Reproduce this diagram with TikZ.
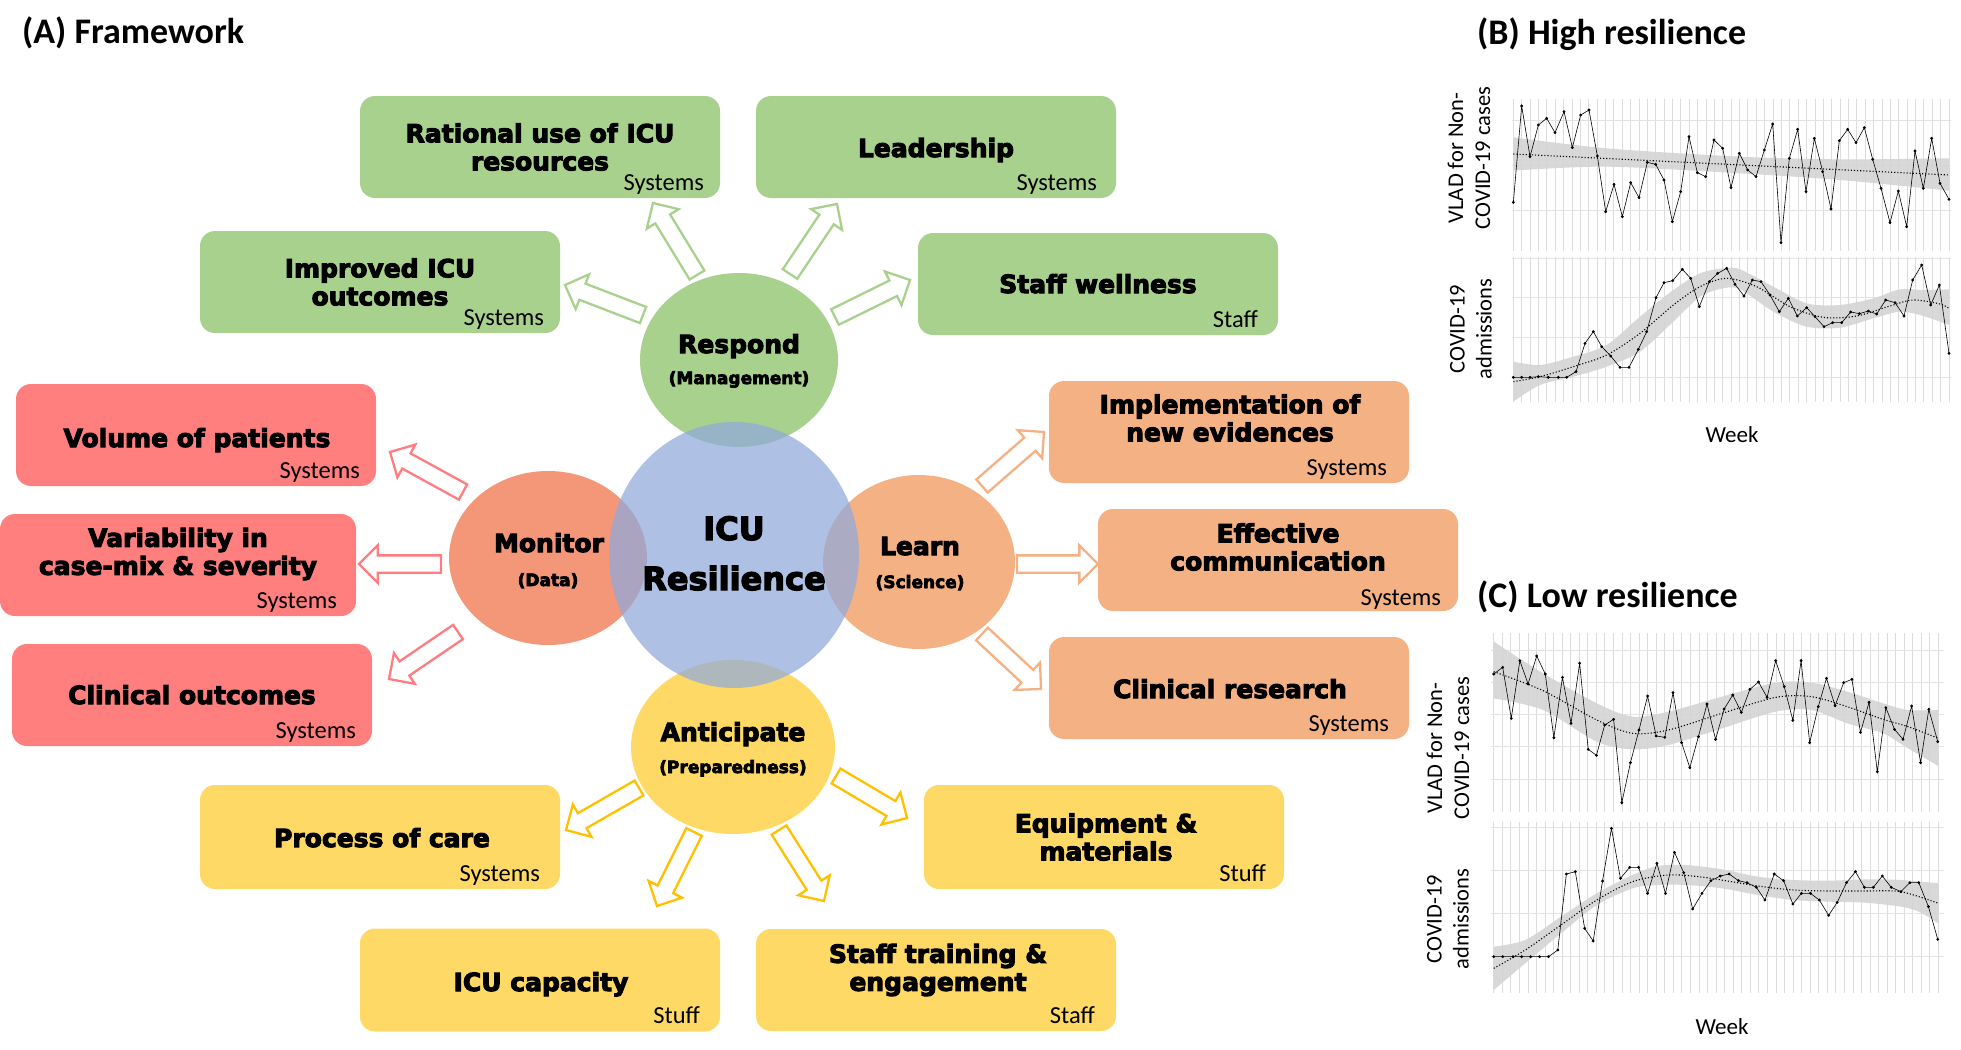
\documentclass[tikz,border=0pt]{standalone}
\usepackage{fontspec}
\setmainfont{Carlito}
\newfontfamily\dv{DejaVu Sans}[BoldFeatures={FakeBold=4}]
\usetikzlibrary{shapes.geometric,shapes.arrows}
\definecolor{cGreen}{HTML}{A9D18E}
\definecolor{cRed}{HTML}{FF7F7F}
\definecolor{cRedA}{HTML}{FF7C80}
\definecolor{cOrange}{HTML}{F4B183}
\definecolor{cYellow}{HTML}{FFD966}
\definecolor{cYellowA}{HTML}{FFC000}
\definecolor{cMon}{HTML}{F49779}
\definecolor{cBlue}{HTML}{8FAADC}
\definecolor{cBand}{HTML}{D4D4D4}
\definecolor{cGrid}{HTML}{DCDCDC}
\newcommand\blockarr[6]{%
  \pgfmathsetmacro\bAng{atan2(#4-#6,#5-#3)}%
  \pgfmathsetmacro\bLen{veclen(#5-#3,#6-#4)}%
  \node[barrow=#2, rotate=\bAng, minimum height=\bLen pt, anchor=tail] (#1) at (#3,#4) {};%
}
\tikzset{
  box/.style={rectangle, rounded corners=15pt, minimum width=360pt, minimum height=102pt, inner sep=0pt, draw=none},
  gbox/.style={box, fill=cGreen},
  rbox/.style={box, fill=cRed},
  obox/.style={box, fill=cOrange},
  ybox/.style={box, fill=cYellow},
  mtext/.style={font=\dv\bfseries\fontsize{25}{28}\selectfont, align=center, inner sep=0pt, text=black},
  stext/.style={font=\fontsize{24.5}{27}\selectfont, anchor=base east, inner sep=0pt},
  ctext/.style={font=\dv\bfseries\fontsize{25}{28}\selectfont, anchor=base, inner sep=0pt},
  cstext/.style={font=\dv\bfseries\fontsize{17}{20}\selectfont, anchor=base, inner sep=0pt},
  bigtext/.style={font=\dv\bfseries\fontsize{32}{36}\selectfont, anchor=base, inner sep=0pt},
  circ/.style={ellipse, inner sep=0pt, draw=none, minimum width=198pt, minimum height=174pt},
  barrow/.style={single arrow, draw=#1, fill=white, line width=2.3pt, minimum width=36pt,
     single arrow head extend=10pt, single arrow tip angle=90, inner xsep=0pt, inner ysep=7.5pt,
     text height=0pt, text depth=0pt, outer sep=0pt},
  title/.style={font=\bfseries\fontsize{36}{40}\selectfont, anchor=base west, inner sep=0pt},
  axlab/.style={font=\fontsize{22.5}{27}\selectfont, align=center, inner sep=0pt, rotate=90},
  weeklab/.style={font=\fontsize{23}{26}\selectfont, inner sep=0pt},
  gridv/.style={draw=cGrid, line width=0.9pt},
  gridh/.style={draw=cGrid!80, line width=0.9pt},
  band/.style={fill=cBand, fill opacity=0.9, draw=none},
  trend/.style={draw=black, line width=1.1pt, dotted},
  data/.style={draw=black, line width=0.6pt, mark=*, mark size=1.1pt, mark options={solid, fill=black}},
}
\begin{document}
\begin{tikzpicture}[x=1pt, y=-1pt]
\useasboundingbox (0,0) rectangle (1961,1049);
\fill[white] (0,0) rectangle (1961,1049);

% titles
\node[title] (tA) at (22,44) {(A) Framework};
\node[title] (tB) at (1477,45) {(B) High resilience};
\node[title] (tC) at (1477,607) {(C) Low resilience};

% boxes
\node[gbox] (rat) at (540,147) {};
\node[gbox] (lead) at (936,147) {};
\node[gbox] (impr) at (380,282) {};
\node[gbox] (well) at (1098,284) {};
\node[rbox] (vol) at (196,435) {};
\node[rbox, minimum width=356pt] (var) at (178,565) {};
\node[rbox] (clo) at (192,695) {};
\node[obox] (impl) at (1229,432) {};
\node[obox] (eff) at (1278,560) {};
\node[obox] (res) at (1229,688) {};
\node[ybox, minimum height=104pt] (proc) at (380,837) {};
\node[ybox, minimum height=104pt] (equip) at (1104,837) {};
\node[ybox, minimum height=103pt] (cap) at (540,980) {};
\node[ybox] (train) at (936,980) {};

\node[mtext] (ratT) at (540,147) {Rational use of ICU\\resources};
\node[mtext, anchor=base] (leadT) at (936,157) {Leadership};
\node[mtext] (imprT) at (380,282) {Improved ICU\\outcomes};
\node[mtext, anchor=base] (wellT) at (1098,293) {Staff wellness};
\node[mtext, anchor=base] (volT) at (197,447) {Volume of patients};
\node[mtext] (varT) at (178,554) {Variability in\\case-mix \& severity};
\node[mtext, anchor=base] (cloT) at (192,704) {Clinical outcomes};
\node[mtext] (implT) at (1230,418) {Implementation of\\new evidences};
\node[mtext] (effT) at (1278,547) {Effective\\communication};
\node[mtext, anchor=base] (resT) at (1230,698) {Clinical research};
\node[mtext, anchor=base] (procT) at (382,847) {Process of care};
\node[mtext] (equipT) at (1106,837) {Equipment \&\\materials};
\node[mtext, anchor=base] (capT) at (541,991) {ICU capacity};
\node[mtext] (trainT) at (938,970) {Staff training \&\\engagement};

\node[stext] (ratS) at ([xshift=-16pt,yshift=8pt]rat.south east) {Systems};
\node[stext] (leadS) at ([xshift=-19pt,yshift=8pt]lead.south east) {Systems};
\node[stext] (imprS) at ([xshift=-16pt,yshift=8pt]impr.south east) {Systems};
\node[stext] (wellS) at ([xshift=-20pt,yshift=8pt]well.south east) {Staff};
\node[stext] (volS) at ([xshift=-16pt,yshift=8pt]vol.south east) {Systems};
\node[stext] (varS) at ([xshift=-19pt,yshift=8pt]var.south east) {Systems};
\node[stext] (cloS) at ([xshift=-16pt,yshift=8pt]clo.south east) {Systems};
\node[stext] (implS) at ([xshift=-22pt,yshift=8pt]impl.south east) {Systems};
\node[stext] (effS) at ([xshift=-17pt,yshift=6pt]eff.south east) {Systems};
\node[stext] (resS) at ([xshift=-20pt,yshift=8pt]res.south east) {Systems};
\node[stext] (procS) at ([xshift=-20pt,yshift=8pt]proc.south east) {Systems};
\node[stext] (equipS) at ([xshift=-18pt,yshift=8pt]equip.south east) {Stuff};
\node[stext] (capS) at ([xshift=-20pt,yshift=8pt]cap.south east) {Stuff};
\node[stext] (trainS) at ([xshift=-21pt,yshift=8pt]train.south east) {Staff};

% circles
\node[circ, fill=cGreen] (resp) at (739,360) {};
\node[circ, fill=cMon] (mon) at (548,558) {};
\node[circ, fill=cOrange, minimum width=192pt] (learn) at (919,562) {};
\node[circ, fill=cYellow, minimum width=204pt] (ant) at (733,747) {};
\node[ellipse, inner sep=0pt, minimum width=250pt, minimum height=266pt, fill=cBlue, fill opacity=0.72] (icu) at (734,555) {};

\node[ctext] (respT) at (739,353) {Respond};
\node[cstext] (respS) at (739,384) {(Management)};
\node[ctext] (monT) at (549,552) {Monitor};
\node[cstext] (monS) at (548,586) {(Data)};
\node[ctext] (learnT) at (920,555) {Learn};
\node[cstext] (learnS) at (920,588) {(Science)};
\node[ctext] (antT) at (733,741) {Anticipate};
\node[cstext] (antS) at (733,773) {(Preparedness)};
\node[bigtext] (icuT1) at (734,540) {ICU};
\node[bigtext] (icuT2) at (734,590) {Resilience};

% block arrows
\blockarr{a1}{cGreen}{697}{275}{653}{203}
\blockarr{a2}{cGreen}{643}{315}{565}{285}
\blockarr{a3}{cGreen}{790}{274}{837}{204}
\blockarr{a4}{cGreen}{835}{317}{910}{280}
\blockarr{a5}{cRedA}{463}{492}{390}{452}
\blockarr{a6}{cRedA}{441}{564}{359}{564}
\blockarr{a7}{cRedA}{458}{632}{389}{679}
\blockarr{a8}{cOrange}{982}{486}{1044}{432}
\blockarr{a9}{cOrange}{1017}{564}{1098}{564}
\blockarr{a10}{cOrange}{982}{634}{1041}{689}
\blockarr{a11}{cYellowA}{639}{788}{566}{830}
\blockarr{a12}{cYellowA}{694}{832}{657}{906}
\blockarr{a13}{cYellowA}{779}{830}{824}{901}
\blockarr{a14}{cYellowA}{836}{776}{907}{818}

% ---------- chart B ----------
\begin{scope}[shift={(1440,0)}, x=0.33333pt, y=-0.33333pt]
  \foreach \i in {0,...,52} {
    \draw[gridv] ({220+\i*25.135},298) -- ({220+\i*25.135},752);
    \draw[gridv] ({220+\i*25.135},770) -- ({220+\i*25.135},1205);
  }
  \foreach \yy in {360,495,630} \draw[gridh] (215,\yy) -- (1532,\yy);
  \foreach \yy in {775,893,1012,1132} \draw[gridh] (215,\yy) -- (1532,\yy);
  \fill[band] plot[smooth] coordinates {(220,412) (500,445) (900,470) (1200,478) (1527,475)}
     -- plot[smooth] coordinates {(1527,572) (1200,540) (900,520) (500,500) (220,512)} -- cycle;
  \draw[trend] (220,462) -- (1527,525);
  \draw[data] plot coordinates {(220,607)(245,318)(270,470)(295,375)(320,355)(345,398)(372,335)(397,443)(422,345)(447,330)(472,468)(497,635)(522,553)(547,650)(572,548)(597,593)(622,487)(647,493)(672,540)(697,665)(722,575)(747,410)(772,518)(797,530)(822,420)(848,445)(873,563)(898,460)(923,510)(948,530)(973,450)(998,372)(1023,728)(1048,475)(1073,388)(1098,575)(1123,415)(1148,515)(1173,627)(1198,422)(1223,388)(1248,428)(1273,383)(1298,478)(1323,565)(1350,668)(1375,573)(1400,680)(1425,453)(1450,565)(1475,415)(1500,550)(1527,598)};
  \fill[band] plot[smooth] coordinates {(220,1085) (300,1095) (400,1070) (500,1035) (600,950) (700,870) (780,820) (850,805) (900,808) (1000,860) (1100,910) (1200,915) (1300,895) (1380,868) (1450,870) (1527,868)}
     -- plot[smooth] coordinates {(1527,975) (1450,948) (1380,935) (1300,955) (1200,983) (1100,980) (1000,935) (900,868) (850,865) (780,890) (700,965) (600,1055) (500,1100) (400,1130) (300,1155) (220,1205)} -- cycle;
  \draw[trend] plot[smooth] coordinates {(220,1145) (300,1130) (400,1100) (500,1065) (600,1000) (700,915) (780,860) (860,835) (950,860) (1050,920) (1150,952) (1250,948) (1350,918) (1420,900) (1500,912) (1527,925)};
  \draw[data] plot coordinates {(220,1132)(245,1132)(270,1132)(295,1130)(325,1132)(355,1132)(380,1132)(408,1115)(435,1030)(460,995)(485,1040)(512,1068)(540,1102)(567,1102)(595,1048)(620,995)(648,893)(672,848)(698,842)(727,808)(752,835)(778,920)(808,845)(833,820)(860,805)(885,853)(912,888)(937,840)(963,845)(990,885)(1018,935)(1045,895)(1072,948)(1100,923)(1125,950)(1152,980)(1178,968)(1205,968)(1232,936)(1258,941)(1285,933)(1310,942)(1337,900)(1365,908)(1392,948)(1418,840)(1445,795)(1472,915)(1498,855)(1527,1060)};
\end{scope}
\node[axlab] (bY1) at (1469,158) {VLAD for Non-\\COVID-19 cases};
\node[axlab] (bY2) at (1471,329) {COVID-19\\admissions};
\node[weeklab] (bX) at (1732,435) {Week};

% ---------- chart C ----------
\begin{scope}[shift={(1400,560)}, x=0.35778pt, y=-0.33333pt]
  \foreach \i in {0,...,52} {
    \draw[gridv] ({262+\i*23.904},220) -- ({262+\i*23.904},755);
    \draw[gridv] ({262+\i*23.904},785) -- ({262+\i*23.904},1300);
  }
  \foreach \yy in {270,367,463,560,657} \draw[gridh] (255,\yy) -- (1520,\yy);
  \foreach \yy in {803,930,1060,1190} \draw[gridh] (255,\yy) -- (1520,\yy);
  \fill[band] plot[smooth] coordinates {(262,245) (400,340) (550,430) (650,470) (750,455) (900,410) (1050,368) (1150,368) (1250,395) (1350,430) (1420,450) (1505,450)}
     -- plot[smooth] coordinates {(1505,618) (1420,565) (1350,520) (1250,490) (1150,450) (1050,455) (900,505) (750,555) (650,568) (550,545) (400,450) (262,415)} -- cycle;
  \draw[trend] plot[smooth] coordinates {(262,335) (400,392) (550,480) (650,520) (750,510) (900,460) (1050,412) (1150,410) (1250,440) (1350,478) (1420,500) (1505,535)};
  \draw[data] plot coordinates {(262,342)(287,322)(311,475)(335,302)(358,372)(382,288)(406,342)(430,533)(454,352)(478,490)(502,310)(526,568)(549,586)(572,495)(597,478)(620,728)(644,608)(668,510)(692,408)(716,528)(740,532)(763,398)(787,548)(810,623)(834,530)(858,432)(882,538)(906,447)(930,405)(954,457)(978,388)(1002,366)(1026,412)(1050,302)(1074,380)(1098,481)(1121,302)(1145,548)(1169,440)(1192,355)(1216,437)(1240,368)(1263,358)(1287,517)(1311,427)(1334,635)(1358,443)(1382,508)(1406,538)(1430,438)(1455,608)(1478,448)(1503,545)};
  \fill[band] plot[smooth] coordinates {(262,1160) (350,1140) (450,1070) (550,1000) (650,945) (720,918) (800,915) (900,928) (1000,950) (1100,960) (1200,962) (1300,958) (1400,960) (1505,970)}
     -- plot[smooth] coordinates {(1505,1090) (1450,1055) (1400,1040) (1300,1028) (1200,1025) (1100,1020) (1000,1005) (900,985) (800,975) (720,975) (650,985) (550,1035) (450,1120) (350,1210) (262,1290)} -- cycle;
  \draw[trend] plot[smooth] coordinates {(262,1225) (350,1170) (450,1095) (550,1020) (650,965) (750,945) (850,952) (1000,978) (1100,990) (1200,993) (1300,993) (1400,995) (1505,1030)};
  \draw[data] plot coordinates {(262,1190)(287,1190)(316,1190)(340,1190)(365,1190)(390,1190)(415,1190)(441,1170)(465,942)(490,935)(516,1105)(540,1143)(566,963)(591,805)(616,955)(642,922)(667,922)(692,1000)(718,910)(742,1000)(767,877)(793,938)(818,1047)(844,1000)(869,962)(895,948)(920,942)(946,962)(970,968)(996,982)(1020,1020)(1046,942)(1072,962)(1098,1032)(1122,1000)(1147,1000)(1172,1020)(1198,1066)(1222,1027)(1248,968)(1273,935)(1298,982)(1323,982)(1348,948)(1373,982)(1400,995)(1425,968)(1450,968)(1477,1040)(1503,1138)};
\end{scope}
\node[axlab] (cY1) at (1448,748) {VLAD for Non-\\COVID-19 cases};
\node[axlab] (cY2) at (1448,919) {COVID-19\\admissions};
\node[weeklab] (cX) at (1722,1027) {Week};
\end{tikzpicture}
\end{document}
